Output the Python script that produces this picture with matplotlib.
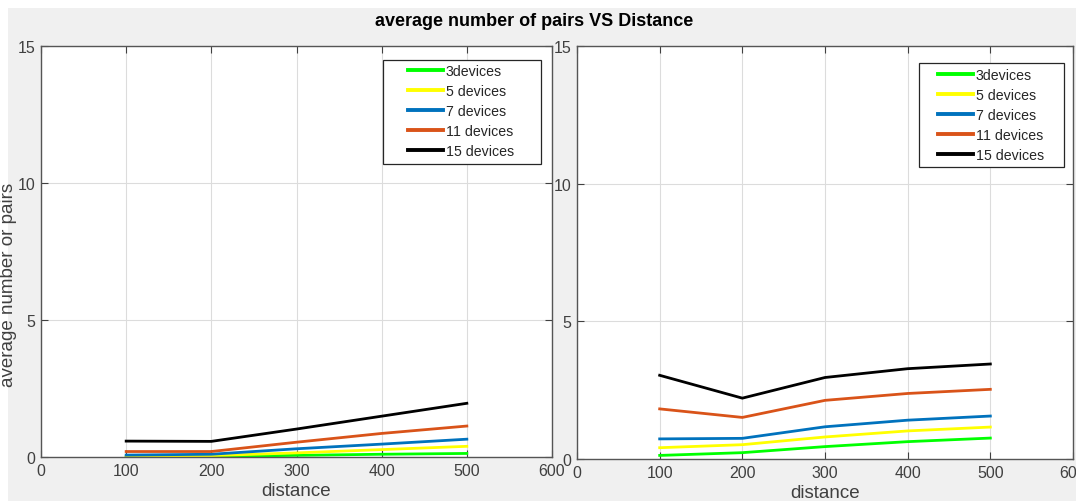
import numpy as np
import matplotlib.pyplot as plt
from matplotlib.patches import Rectangle

distance = [100, 200, 300, 400, 500]
labels = ['3devices', '5 devices', '7 devices', '11 devices', '15 devices']
colors = ['#00ff00', '#ffff00', '#0072bd', '#d95319', '#000000']

# left panel
left_pairs = [
	[0.00, 0.02, 0.06, 0.10, 0.13],
	[0.02, 0.05, 0.15, 0.27, 0.39],
	[0.07, 0.10, 0.30, 0.47, 0.65],
	[0.20, 0.20, 0.54, 0.86, 1.13],
	[0.58, 0.57, 1.02, 1.49, 1.96],
]
# right panel
right_pairs = [
	[0.13, 0.23, 0.45, 0.63, 0.76],
	[0.41, 0.52, 0.80, 1.02, 1.16],
	[0.73, 0.75, 1.17, 1.41, 1.56],
	[1.82, 1.51, 2.13, 2.38, 2.53],
	[3.04, 2.21, 2.96, 3.28, 3.45],
]

xticks = [0, 100, 200, 300, 400, 500, 600]
yticks = [0, 5, 10, 15]

plt.rcParams['font.family'] = ['Liberation Sans', 'DejaVu Sans']

W, H = 1076, 502
fig = plt.figure(figsize=(W / 100, H / 100), dpi=100, facecolor='white')
fig.patches.append(Rectangle((8 / W, 0), 1, 1 - 9 / H, transform=fig.transFigure,
	facecolor='#f0f0f0', edgecolor='none', zorder=-10))


def px_axes(x0, y0, x1, y1):
	return fig.add_axes([x0 / W, 1 - y1 / H, (x1 - x0) / W, (y1 - y0) / H])


def draw(ax, data, box, anchor):
	# box and anchor are in pixels of the figure
	for vals, lab, c in zip(data, labels, colors):
		ax.plot(distance, vals, color=c, lw=2, label=lab, solid_joinstyle='miter')
	ax.set_xlim(0, 600)
	ax.set_ylim(0, 15)
	ax.set_xticks(xticks)
	ax.set_yticks(yticks)
	ax.grid(True, color='#dcdcdc', lw=0.8)
	ax.set_axisbelow(True)
	ax.tick_params(direction='in', top=True, right=True, length=5, width=0.8,
		colors='#404040', labelsize=11.5, labelcolor='#404040', pad=4)
	for s in ax.spines.values():
		s.set_color('#555555')
		s.set_linewidth(1.0)
	ax.set_xlabel('distance', fontsize=13.5, color='#404040', labelpad=3)

	x0, y0, x1, y1 = box
	ax.add_patch(Rectangle((x0 / W, 1 - y1 / H), (x1 - x0) / W, (y1 - y0) / H,
		transform=fig.transFigure, facecolor='white', edgecolor='#262626',
		lw=0.9, zorder=4.5, clip_on=False))
	leg = ax.legend(loc='upper left', bbox_to_anchor=(anchor[0] / W, 1 - anchor[1] / H),
		bbox_transform=fig.transFigure, fontsize=10.2, frameon=False,
		handlelength=2.5, handletextpad=0.15, labelspacing=0.43, borderpad=0,
		borderaxespad=0)
	leg.set_zorder(6)
	for h in leg.get_lines():
		h.set_linewidth(2.8)
	for t in leg.get_texts():
		t.set_color('#262626')
	return leg


ax1 = px_axes(41, 47, 552, 458)
ax2 = px_axes(577, 47, 1073, 460)

draw(ax1, left_pairs, (383, 61, 541, 165), (408, 65))
draw(ax2, right_pairs, (919, 64, 1064, 168), (938, 69))

ax1.set_ylabel('average number or pairs', fontsize=13.5, color='#404040', labelpad=2)
ax1.yaxis.set_label_coords(-0.047, 0.42)

fig.text(534 / W, 1 - 22 / H, 'average number of pairs VS Distance', ha='center',
	va='center', fontsize=13, fontweight='bold', color='#000000')

plt.savefig('out.png', dpi=100, facecolor=fig.get_facecolor())
